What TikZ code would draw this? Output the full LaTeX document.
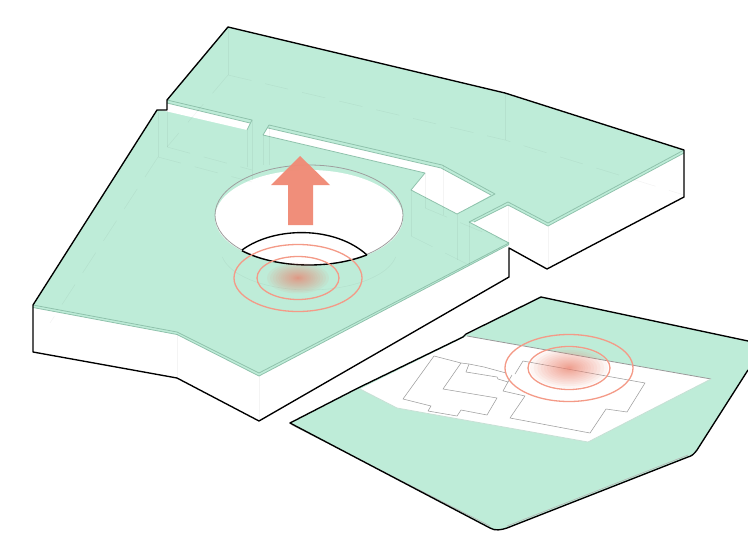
\documentclass[tikz,border=0pt]{standalone}
\definecolor{lawn}{HTML}{BEECD8}
\definecolor{lawnedge}{HTML}{8FC2AC}
\definecolor{salmon}{HTML}{F49A87}
\definecolor{hotred}{HTML}{F08470}
\definecolor{arrowred}{HTML}{F08B76}
\begin{document}
\begin{tikzpicture}[x=1pt, y=-1pt,
	outline/.style={black, line width=1.35pt, line join=round},
	rim/.style={lawnedge, line width=0.8pt, line join=round},
	ghost/.style={black, opacity=0.045, line width=0.6pt},
	ghostdash/.style={ghost, dash pattern=on 24pt off 14pt},
	plan/.style={black!38, line width=0.55pt, line join=round},
	ring/.style={salmon, line width=1.3pt}]
	
	\useasboundingbox (0,0) rectangle (748,541);
	
	% Obere Flaeche des Blocks
	\fill[lawn] (228,27) -- (505,93) -- (684,150) -- (684,153) -- (548,226) -- (508,205) -- (474,222) -- (469,222) -- (509,243)
		-- (509,244.5) -- (259,376) -- (177,334.5) -- (33,307.5) -- (33,305) -- (157,110) -- (167,111) -- (167,100) -- cycle;
	
	% Schlitze in der Flaeche
	\fill[white] (167,103) -- (250,123) -- (247,130) -- (165,111) -- cycle;
	\fill[white] (268,128) -- (263,135) -- (425,173) -- (411,190) -- (457,214) -- (491,195) -- (441,168) -- cycle;
	
	% Doppelte Kanten
	\draw[rim] (167,100) -- (252,120) -- (247,130);
	\draw[rim] (167,103) -- (250,123);
	\draw[rim] (263,135) -- (269,125) -- (442,165) -- (495,194) -- (457,214) -- (411,190) -- (425,173) -- (263,135);
	\draw[rim] (268,128) -- (441,168) -- (491,195);
	\draw[rim] (469,222) -- (508,202) -- (548,223) -- (684,150);
	\draw[rim] (474,222) -- (508,205) -- (548,226) -- (684,153);
	\draw[rim] (469,222) -- (509,243) -- (259,373) -- (177,332) -- (33,305);
	\draw[rim] (33,307.5) -- (177,334.5) -- (259,376) -- (509,244.5);
	
	% Rundes Loch
	\fill[white] (309,217.5) ellipse [x radius=94, y radius=47.5];
	\draw[rim, black!38] (309,215) ellipse [x radius=94, y radius=50];
	
	% Gelaendeflaeche unten rechts
	\fill[lawn] (541,297) -- (748,341) -- (748,370) -- (697,450) .. controls (694,454) and (692,456) .. (688,457)
		-- (507,528) .. controls (501,530) and (495,531) .. (490,528) -- (290,423) -- (358,388) -- (466,335) -- cycle;
	\fill[white] (467,336) -- (711,379) -- (588,442) -- (397,408) -- (360,389) -- cycle;
	\draw[rim, black!40] (467,336) -- (711,379);
	\draw[rim, lawnedge!50] (711,379) -- (588,442) -- (397,408) -- (360,389);
	\draw[black!30, line width=0.6pt] (292,425) -- (490,526);
	\draw[black!30, line width=0.6pt] (507,526) -- (688,455);
	
	% Grundrisse
	\draw[plan] (434,356) -- (461,363) -- (443,389) -- (497,398) -- (487,415) -- (461,410) -- (457,416) -- (428,411)
		-- (431,406) -- (403,399) -- cycle;
	\draw[plan] (461,363) -- (469,364) -- (484,367) -- (506,373);
	\draw[plan] (469,364) -- (466,372) -- (497,377) -- (498,379) -- (508,382) -- (503,391) -- (525,396) -- (510,418)
		-- (590,433) -- (606,409) -- (627,412) -- (645,383) -- (523,361) -- (515,374);
	\draw[plan] (508,382) -- (512,375);
	
	% Schwache Hilfslinien
	\draw[ghost] (228,27) -- (228,75);
	\draw[ghostdash] (228,75) -- (167,147);
	\draw[ghostdash] (228,75) -- (505,140) -- (684,195);
	\draw[ghost] (505,93) -- (505,140);
	\draw[ghost] (167,111) -- (167,147);
	\draw[ghost] (158,110) -- (158,157);
	\draw[ghostdash] (167,147) -- (252,170);
	\draw[ghostdash] (158,157) -- (252,182);
	\draw[ghostdash] (158,157) -- (50,323);
	\draw[ghost] (177,334) -- (177,378);
	\draw[ghost] (259,376) -- (259,421);
	\draw[ghost] (548,226) -- (548,269);
	\draw[ghost] (508,205) -- (508,248);
	\draw[ghost] (247,130) -- (247,167);
	\draw[ghost] (252,120) -- (252,180);
	\draw[ghost] (263,135) -- (263,165);
	\draw[ghost] (269,127) -- (269,165);
	\draw[ghost] (443,165) -- (443,215);
	\draw[ghost] (457,214) -- (457,260);
	\draw[ghost] (469,222) -- (469,265);
	\draw[ghost] (411,190) -- (411,236);
	\draw[ghost] (425,173) -- (425,208);
	\draw[ghostdash] (411,236) -- (469,265);
	\draw[ghostdash] (425,208) -- (509,243);
	\draw[ghost] plot[smooth, domain=10:170, samples=25] ({309+88*cos(\x)},{250+40*sin(\x)});
	
	% Schwarze Aussenkanten
	\draw[outline] (684,150) -- (505,93) -- (228,27) -- (167,100) -- (167,110) -- (157,110) -- (33,305) -- (33,352)
		-- (177,378) -- (259,421) -- (509,277) -- (509,248) -- (547,269) -- (684,197) -- cycle;
	\draw[outline] (541,297) -- (748,341);
	\draw[outline] (748,370) -- (697,450) .. controls (694,454) and (692,456) .. (688,457)
		-- (507,528) .. controls (501,530) and (495,531) .. (490,528) -- (290,423) -- (358,388);
	\draw[outline] (358,388) -- (463,337) -- (466,334) -- (541,297);
	
	% Schwarzer Rand im Loch
	\draw[outline] (242,250) .. controls (275,226) and (335,226) .. (367,255);
	\draw[outline] plot[smooth, domain=51.9:135.5, samples=25] ({309+94*cos(\x)},{217.5+47.5*sin(\x)});
	
	% Pfeil nach oben
	\fill[arrowred, opacity=0.97] (300,156) -- (330,185) -- (313,185) -- (313,225) -- (288,225) -- (288,185) -- (271,185) -- cycle;
	
	% Erster Hotspot
	\foreach \r in {1,0.95,...,0.05} {
		\fill[hotred, opacity=0.08] (298,278) ellipse [x radius=31*\r*\r, y radius=15.5*\r*\r];
	}
	\draw[ring] (298,278) ellipse [x radius=41, y radius=21.5];
	\draw[ring] (298,278) ellipse [x radius=64, y radius=33.5];
	
	% Zweiter Hotspot
	\foreach \r in {1,0.95,...,0.05} {
		\fill[hotred, opacity=0.08] (569,368) ellipse [x radius=39*\r*\r, y radius=20*\r*\r];
	}
	\draw[ring] (569,368) ellipse [x radius=41, y radius=21.5];
	\draw[ring] (569,368) ellipse [x radius=64, y radius=33.5];
	
\end{tikzpicture}
\end{document}
